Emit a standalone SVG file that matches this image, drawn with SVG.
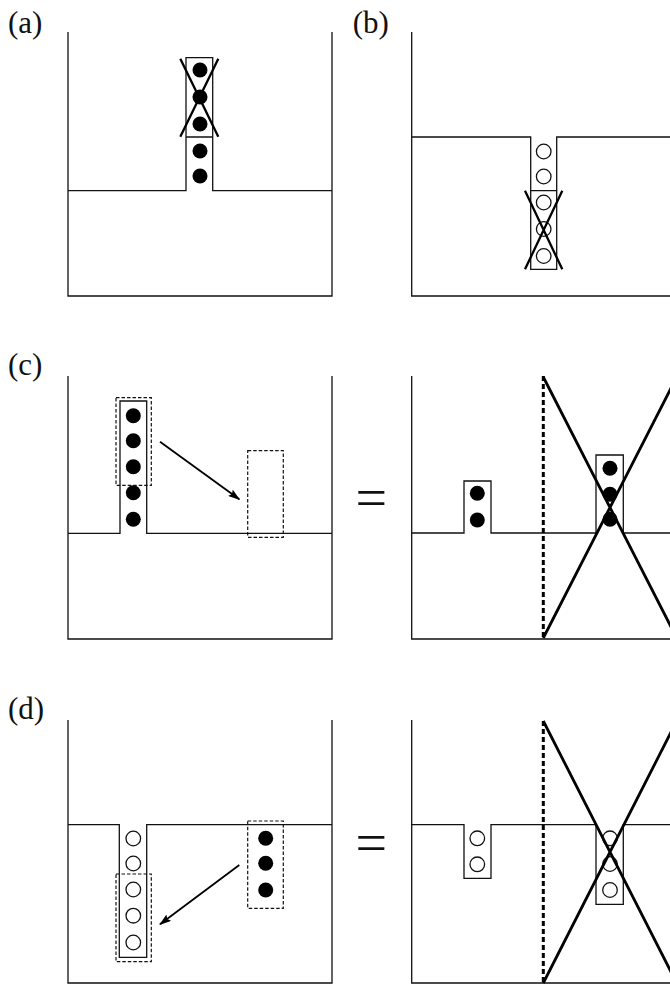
<svg xmlns="http://www.w3.org/2000/svg" width="670" height="984" viewBox="0 0 670 984">
<style>
.ln{fill:none;stroke:#111;stroke-width:1.3}
.fc{fill:#000}
.oc{fill:#fff;stroke:#111;stroke-width:1.3}
.x1{stroke:#000;stroke-width:2.3;fill:none}
.x2{stroke:#000;stroke-width:2.8;fill:none}
.dot{stroke:#000;stroke-width:3;stroke-dasharray:5 3;fill:none}
.db{fill:none;stroke:#111;stroke-width:1.2;stroke-dasharray:3.5 2}
.lab{font-family:"Liberation Serif",serif;font-size:31px;fill:#111}
.eq{font-family:"Liberation Serif",serif;font-size:56px;fill:#111;text-anchor:middle}
.arr{stroke:#000;stroke-width:1.8;fill:none;marker-end:url(#ah)}
</style>
<defs>
<marker id="ah" viewBox="0 0 12 8" refX="11" refY="4" markerWidth="12" markerHeight="8" markerUnits="userSpaceOnUse" orient="auto">
<path d="M0,0 L12,4 L0,8 L2,4 Z" fill="#000"/>
</marker>
</defs>
<rect width="670" height="984" fill="#fff"/>

<g id="panel-a">
<text class="lab" x="8" y="33">(a)</text>
<path class="ln" d="M68,32 V296 H332 V32"/>
<path class="ln" d="M68,190.7 H186 V57.7 H212.7 V190.7 H332 M186,137 H212.7"/>
<circle class="fc" cx="200" cy="70" r="7.5"/>
<circle class="fc" cx="200" cy="97" r="7.5"/>
<circle class="fc" cx="200" cy="124" r="7.5"/>
<circle class="fc" cx="200" cy="151" r="7.5"/>
<circle class="fc" cx="200" cy="176" r="7.5"/>
<path class="x1" d="M180.3,58.7 L218.3,136.7 M218.3,58.7 L180.3,136.7"/>
</g>

<g id="panel-b">
<text class="lab" x="352.7" y="33">(b)</text>
<path class="ln" d="M411.7,32 V296 H670"/>
<path class="ln" d="M411.7,137 H530.7 V269.3 H556.7 V137 H670 M530.7,190.7 H556.7"/>
<circle class="oc" cx="543.7" cy="151.5" r="7.3"/>
<circle class="oc" cx="543.7" cy="176.5" r="7.3"/>
<circle class="oc" cx="543.7" cy="202.5" r="7.3"/>
<circle class="oc" cx="543.7" cy="229" r="7.3"/>
<circle class="oc" cx="543.7" cy="256" r="7.3"/>
<path class="x1" d="M525,190.7 L562.3,269.3 M562.3,190.7 L525,269.3"/>
</g>

<g id="panel-c-left">
<text class="lab" x="8" y="375">(c)</text>
<path class="ln" d="M68,376 V639 H332 V376"/>
<path class="ln" d="M68,533.3 H120 V401 H146.7 V533.3 H332"/>
<circle class="fc" cx="133.3" cy="415.7" r="7.5"/>
<circle class="fc" cx="133.3" cy="440.7" r="7.5"/>
<circle class="fc" cx="133.3" cy="466.7" r="7.5"/>
<circle class="fc" cx="133.3" cy="492.7" r="7.5"/>
<circle class="fc" cx="133.3" cy="519.3" r="7.5"/>
<rect class="db" x="116" y="397.7" width="35.3" height="87.6"/>
<rect class="db" x="247.7" y="450.7" width="35.6" height="86.6"/>
</g>

<g id="panel-c-right">
<text class="eq" x="371.3" y="517">=</text>
<path class="ln" d="M411.7,376 V639 H670"/>
<path class="ln" d="M411.7,533 H464 V481 H491 V533 H596 V455 H623.3 V533 H670"/>
<circle class="fc" cx="477.3" cy="493.3" r="7.5"/>
<circle class="fc" cx="477.3" cy="520" r="7.5"/>
<circle class="fc" cx="610" cy="468.3" r="7.5"/>
<circle class="fc" cx="610" cy="494.3" r="7.5"/>
<circle class="fc" cx="610" cy="519.3" r="7.5"/>
<path class="dot" d="M543.3,376 V639"/>
<path class="x2" d="M543.3,377 L676.7,638 M543.3,638 L676.7,377"/>
</g>

<g id="panel-d-left">
<text class="lab" x="8" y="719">(d)</text>
<path class="ln" d="M68,720 V983 H332 V720"/>
<path class="ln" d="M68,824.7 H119.3 V957.3 H146.7 V824.7 H332"/>
<circle class="oc" cx="133.3" cy="838.5" r="7.3"/>
<circle class="oc" cx="133.3" cy="863.5" r="7.3"/>
<circle class="oc" cx="133.3" cy="889.5" r="7.3"/>
<circle class="oc" cx="133.3" cy="915.7" r="7.3"/>
<circle class="oc" cx="133.3" cy="942.5" r="7.3"/>
<rect class="db" x="116" y="874" width="35.3" height="87.7"/>
<rect class="db" x="247.7" y="821" width="35.6" height="87.3"/>
<circle class="fc" cx="265.7" cy="838.3" r="7.5"/>
<circle class="fc" cx="265.7" cy="863.3" r="7.5"/>
<circle class="fc" cx="265.7" cy="890" r="7.5"/>
</g>

<g id="panel-d-right">
<text class="eq" x="371.3" y="862">=</text>
<path class="ln" d="M411.7,720 V983 H670"/>
<path class="ln" d="M411.7,824.7 H464 V878.3 H491 V824.7 H596 V904.3 H623.3 V824.7 H670"/>
<circle class="oc" cx="477.3" cy="838.3" r="7.3"/>
<circle class="oc" cx="477.3" cy="864.3" r="7.3"/>
<circle class="oc" cx="610" cy="838.3" r="7.3"/>
<circle class="oc" cx="610" cy="864" r="7.3"/>
<circle class="oc" cx="610" cy="890" r="7.3"/>
<path class="dot" d="M543.3,721 V983"/>
<path class="x2" d="M543.3,721 L676.7,983 M543.3,983 L676.7,721"/>
</g>

<g id="connectors">
<path class="arr" d="M160,441.7 L239.3,499.3"/>
<path class="arr" d="M239.3,865 L160,924.3"/>
</g>
</svg>
